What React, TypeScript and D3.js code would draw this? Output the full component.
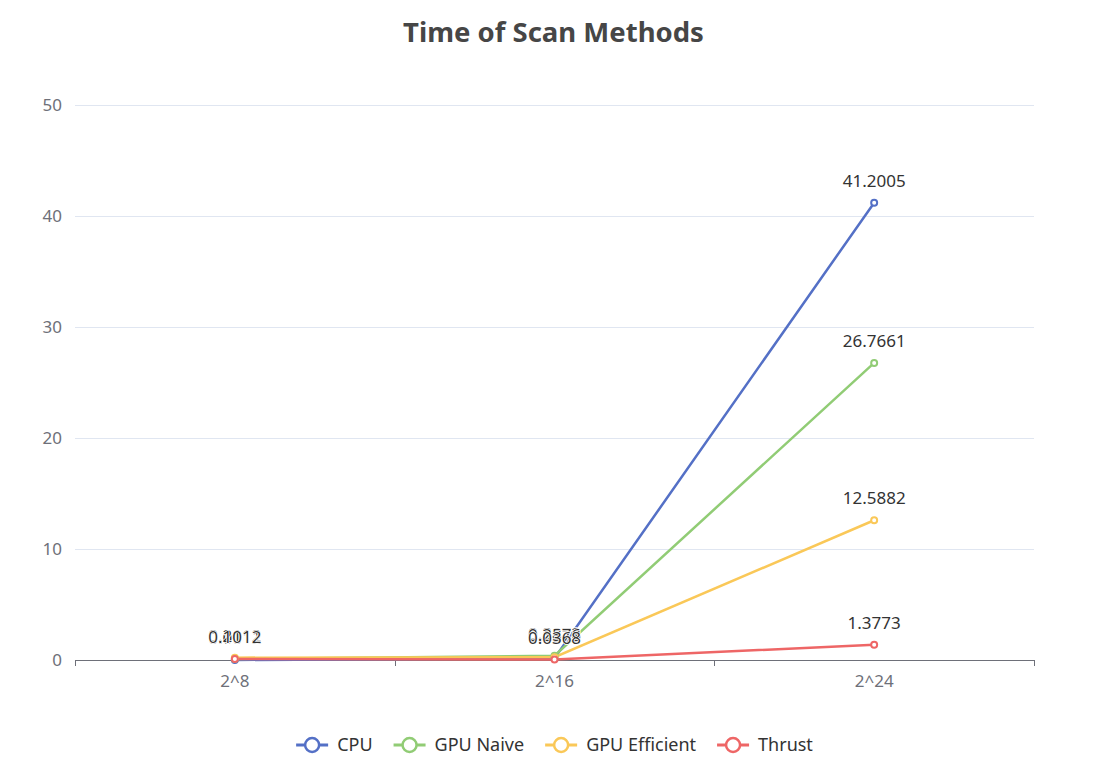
import React, { useEffect, useRef } from "react";
import * as d3 from "d3";

const categories = ["2^8", "2^16", "2^24"];
const seriesNames = ["CPU", "GPU Naive", "GPU Efficient", "Thrust"];
const colors = ["#5470c6", "#91cc75", "#fac858", "#ee6666"];
const cpu = [0.0012, 0.1573, 41.2005];
const gpuNaive = [0.1011, 0.3872, 26.7661];
const gpuEfficient = [0.2112, 0.2576, 12.5882];
const thrust = [0.1012, 0.0368, 1.3773];
const yTicks = [0, 10, 20, 30, 40, 50];

const W = 1093;
const H = 769;
const font = "'Noto Sans', 'Open Sans', sans-serif";

const App = () => {
  const svgRef = useRef<SVGSVGElement>(null);

  useEffect(() => {
    const svg = d3.select(svgRef.current);
    svg.selectAll("*").remove();
    const left = 75, right = 1034, top = 105, bottom = 660;
    const x = d3.scaleBand().domain(categories).range([left, right]);
    const y = d3.scaleLinear().domain([0, 50]).range([bottom, top]);
    const all = [cpu, gpuNaive, gpuEfficient, thrust];

    svg.append("text").text("Time of Scan Methods")
      .attr("x", W / 2 + 7).attr("y", 42).attr("text-anchor", "middle")
      .attr("font-family", font).attr("font-weight", "bold")
      .attr("font-size", 27.5).attr("fill", "#464646");

    // grid
    svg.append("g").selectAll("line").data(yTicks.filter((t) => t > 0)).join("line")
      .attr("x1", left).attr("x2", right)
      .attr("y1", (d) => Math.round(y(d)) + 0.5).attr("y2", (d) => Math.round(y(d)) + 0.5)
      .attr("stroke", "#e0e6f1");
    svg.append("g").selectAll("text").data(yTicks).join("text")
      .attr("x", left - 13).attr("y", (d) => y(d)).attr("dy", "0.35em")
      .attr("text-anchor", "end").text((d) => d)
      .attr("font-family", font).attr("font-size", 17).attr("fill", "#6e7079");

    // x axis
    const xg = svg.append("g");
    xg.append("line").attr("x1", left).attr("x2", right)
      .attr("y1", bottom + 0.5).attr("y2", bottom + 0.5).attr("stroke", "#6e7079");
    const tickXs = [left, ...categories.map((c) => (x(c) as number) + x.bandwidth())];
    xg.selectAll("line.tick").data(tickXs).join("line").attr("class", "tick")
      .attr("x1", (d) => Math.round(d) + 0.5).attr("x2", (d) => Math.round(d) + 0.5)
      .attr("y1", bottom).attr("y2", bottom + 6).attr("stroke", "#6e7079");
    xg.selectAll("text").data(categories).join("text")
      .attr("x", (d) => (x(d) as number) + x.bandwidth() / 2).attr("y", bottom + 27)
      .attr("text-anchor", "middle").text((d) => d)
      .attr("font-family", font).attr("font-size", 17).attr("fill", "#6e7079");

    const cx = (i: number) => (x(categories[i]) as number) + x.bandwidth() / 2;
    const line = d3.line<number>().x((_, i) => cx(i)).y((d) => y(d));

    all.forEach((vals, s) => {
      svg.append("g").append("path").datum(vals).attr("d", line)
        .attr("fill", "none").attr("stroke", colors[s]).attr("stroke-width", 2.5);
    });
    all.forEach((vals, s) => {
      svg.append("g").selectAll("circle").data(vals).join("circle")
        .attr("cx", (_, i) => cx(i)).attr("cy", (d) => y(d)).attr("r", 3)
        .attr("fill", "#fff").attr("stroke", colors[s]).attr("stroke-width", 2);
    });
    all.forEach((vals) => {
      svg.append("g").selectAll("text").data(vals).join("text")
        .attr("x", (_, i) => cx(i)).attr("y", (d) => y(d) - 16)
        .attr("text-anchor", "middle").text((d) => d)
        .attr("font-family", font).attr("font-size", 17).attr("fill", "#333")
        .attr("stroke", "#fff").attr("stroke-width", 1.5).attr("paint-order", "stroke");
    });

    // legend
    const sym = 32, symGap = 9, itemGap = 21;
    const ly = 745;
    const items = seriesNames.map((name, s) => {
      const g = svg.append("g");
      g.append("line").attr("x1", 0).attr("x2", sym).attr("y1", ly).attr("y2", ly)
        .attr("stroke", colors[s]).attr("stroke-width", 3);
      g.append("circle").attr("cx", sym / 2).attr("cy", ly).attr("r", 7)
        .attr("fill", "#fff").attr("stroke", colors[s]).attr("stroke-width", 2.5);
      const t = g.append("text").attr("x", sym + symGap).attr("y", ly).attr("dy", "0.35em")
        .text(name).attr("font-family", font).attr("font-size", 18).attr("fill", "#333");
      const w = (t.node() as SVGTextElement).getComputedTextLength();
      return { g, w: sym + symGap + w };
    });
    const total = items.reduce((a, it) => a + it.w, 0) + itemGap * (items.length - 1);
    let lx = W / 2 + 8 - total / 2;
    items.forEach((it) => {
      it.g.attr("transform", `translate(${lx},0)`);
      lx += it.w + itemGap;
    });
  }, []);

  return <svg ref={svgRef} width={W} height={H} style={{ display: "block", margin: -8 }} />;
};

export default App;
